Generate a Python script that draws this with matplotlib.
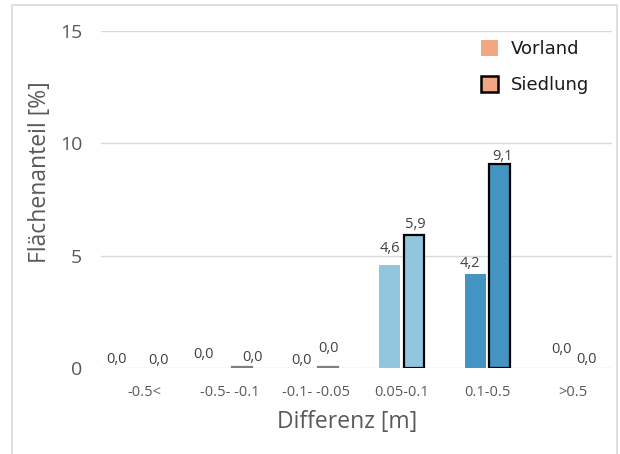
import numpy as np
import matplotlib.pyplot as plt
from matplotlib.patches import Patch, Rectangle

plt.rcParams['font.family'] = ['Open Sans', 'DejaVu Sans']

categories = ["-0.5<", "-0.5- -0.1", "-0.1- -0.05", "0.05-0.1", "0.1-0.5", ">0.5"]
vorland = [0.0, 0.0, 0.0, 4.6, 4.2, 0.0]
siedlung = [0.0, 0.03, 0.03, 5.9, 9.1, 0.0]
colors = ["#CA0020", "#E66A5A", "#F4A582", "#92C5DE", "#4393C3", "#2166AC"]

# label nudges in pixels (dx, height of baseline above bar top), Excel put them a bit unevenly
v_dx = [-15, -14, -2, 0, -6, 0]
v_dy = [5, 10, 4, 13, 7, 15]
s_dx = [3, 11, 1, 2, 3, 1]
s_dy = [4, 6, 15, 7, 4, 5]

TXT = "#595959"
PX = 0.72  # points per pixel at 100 dpi

fig = plt.figure(figsize=(6.2, 4.54), dpi=100)
fig.patches.append(Rectangle((12 / 620, -0.05), 605 / 620, 1 - 5 / 454 + 0.05,
                             transform=fig.transFigure, fill=False,
                             edgecolor="#D9D9D9", linewidth=1.2))

ax = fig.add_axes([101 / 620, 1 - 368 / 454, 511 / 620, (368 - 31) / 454])

x = np.arange(len(categories))
w = 0.235
off = 0.14
ax.bar(x - off, vorland, w, color=colors, zorder=3)

# siedlung: black outline, tiny values look grey
edges = ["none" if v == 0 else ("black" if v >= 0.5 else "#7F7F7F") for v in siedlung]
ax.bar(x + off, siedlung, w, color=colors, edgecolor=edges, linewidth=1.6, zorder=3)

def fmt(v):
    return f"{v:.1f}".replace(".", ",")

for i in range(len(x)):
    ax.annotate(fmt(vorland[i]), (x[i] - off, vorland[i]),
                xytext=(v_dx[i] * PX, v_dy[i] * PX), textcoords="offset points",
                ha="center", va="baseline", fontsize=10.5, color="#404040")
    ax.annotate(fmt(siedlung[i]), (x[i] + off, siedlung[i]),
                xytext=(s_dx[i] * PX, s_dy[i] * PX), textcoords="offset points",
                ha="center", va="baseline", fontsize=10.5, color="#404040")

ax.set_xlim(-0.5, len(categories) - 0.55)
ax.set_ylim(0, 15)
ax.set_yticks([0, 5, 10, 15])
ax.yaxis.grid(True, color="#D9D9D9", linewidth=1, zorder=0)
for s in ax.spines.values():
    s.set_visible(False)
ax.tick_params(axis="y", length=0, labelsize=14, labelcolor=TXT, pad=13.5)
ax.tick_params(axis="x", length=0, labelsize=10.5, labelcolor=TXT, pad=12)
ax.set_xticks(x)
ax.set_xticklabels(categories)
ax.set_xlabel("Differenz [m]", fontsize=16.5, color=TXT)
ax.set_ylabel("Flächenanteil [%]", fontsize=16.5, color=TXT)
ax.xaxis.set_label_coords(0.481, -0.124)
ax.yaxis.set_label_coords(-0.096, 0.58)

handles = [Patch(facecolor="#F4A582", edgecolor="none", label="Vorland"),
           Patch(facecolor="#F4A582", edgecolor="black", linewidth=1.8, label="Siedlung")]
leg = ax.legend(handles=handles, loc="upper left", bbox_to_anchor=(481 / 620, 1 - 40 / 454),
                bbox_transform=fig.transFigure, frameon=False, borderpad=0, borderaxespad=0,
                prop={"family": "DejaVu Sans", "size": 13}, handlelength=0.95,
                handleheight=0.95, labelspacing=1.0, handletextpad=0.68)
for t in leg.get_texts():
    t.set_color("#1A1A1A")

fig.savefig("out.png", dpi=100)
